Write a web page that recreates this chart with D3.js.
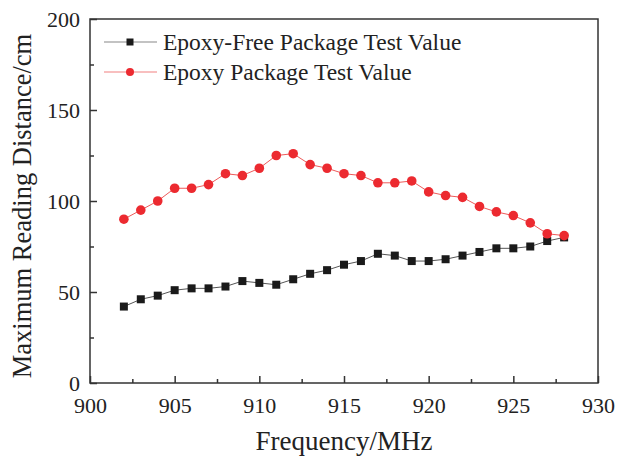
<!DOCTYPE html>
<html>
<head>
<meta charset="utf-8">
<script src="https://cdn.jsdelivr.net/npm/d3@7"></script>
<style>
  body { margin: 0; background: #fff; }
  svg { display: block; }
  text { font-family: "Liberation Serif", "Times New Roman", serif; fill: #222; }
</style>
</head>
<body>
<svg id="chart"></svg>
<script>
const frequency = [902, 903, 904, 905, 906, 907, 908, 909, 910, 911, 912, 913, 914, 915,
  916, 917, 918, 919, 920, 921, 922, 923, 924, 925, 926, 927, 928];
const epoxyFree = [42, 46, 48, 51, 52, 52, 53, 56, 55, 54, 57, 60, 62, 65,
  67, 71, 70, 67, 67, 68, 70, 72, 74, 74, 75, 78, 80];
const epoxy = [90, 95, 100, 107, 107, 109, 115, 114, 118, 125, 126, 120, 118, 115,
  114, 110, 110, 111, 105, 103, 102, 97, 94, 92, 88, 82, 81];
const xTicks = [900, 905, 910, 915, 920, 925, 930];
const yTicks = [0, 50, 100, 150, 200];
const seriesNames = ["Epoxy-Free Package Test Value", "Epoxy Package Test Value"];

const width = 617, height = 461;
const margin = { top: 19, right: 19, bottom: 78, left: 90 };

const svg = d3.select("#chart").attr("width", width).attr("height", height);

const x = d3.scaleLinear().domain([900, 930]).range([margin.left, width - margin.right]);
const y = d3.scaleLinear().domain([0, 200]).range([height - margin.bottom, margin.top]);

const axisColor = "#333";

// frame
svg.append("rect")
  .attr("x", x(900)).attr("y", y(200))
  .attr("width", x(930) - x(900)).attr("height", y(0) - y(200))
  .attr("fill", "none").attr("stroke", axisColor).attr("stroke-width", 1.5);

// x axis, ticks pointing in
svg.append("g").attr("transform", `translate(0,${y(0)})`)
  .call(d3.axisBottom(x).tickValues(xTicks).tickSize(-7).tickPadding(14).tickFormat(d3.format("d")));
svg.append("g").attr("transform", `translate(0,${y(0)})`)
  .call(d3.axisBottom(x).tickValues(d3.range(902.5, 930, 5)).tickSize(-4).tickFormat(""));

svg.append("g").attr("transform", `translate(${x(900)},0)`)
  .call(d3.axisLeft(y).tickValues(yTicks).tickSize(-7).tickPadding(10));
svg.append("g").attr("transform", `translate(${x(900)},0)`)
  .call(d3.axisLeft(y).tickValues([25, 75, 125, 175]).tickSize(-4).tickFormat(""));

svg.selectAll(".domain").remove();
svg.selectAll(".tick line").attr("stroke", axisColor).attr("stroke-width", 1.5);
svg.selectAll(".tick text").attr("font-size", 22).attr("fill", "#222")
  .style("font-family", '"Liberation Serif", serif');

// axis titles
svg.append("text")
  .attr("x", (x(900) + x(930)) / 2).attr("y", 450)
  .attr("text-anchor", "middle").attr("font-size", 27)
  .text("Frequency/MHz");
svg.append("text")
  .attr("transform", `translate(31,${(y(0) + y(200)) / 2 + 5}) rotate(-90)`)
  .attr("text-anchor", "middle").attr("font-size", 26.5)
  .text("Maximum Reading Distance/cm");

const line = d3.line().x((d, i) => x(frequency[i])).y(d => y(d));

// black series
svg.append("path").datum(epoxyFree).attr("d", line)
  .attr("fill", "none").attr("stroke", "#555").attr("stroke-width", 1);
svg.append("g").selectAll("rect").data(epoxyFree).join("rect")
  .attr("x", (d, i) => x(frequency[i]) - 4).attr("y", d => y(d) - 4)
  .attr("width", 8).attr("height", 8).attr("fill", "#1a1a1a");

// red series
svg.append("path").datum(epoxy).attr("d", line)
  .attr("fill", "none").attr("stroke", "#ee5a5a").attr("stroke-width", 1);
svg.append("g").selectAll("circle").data(epoxy).join("circle")
  .attr("cx", (d, i) => x(frequency[i])).attr("cy", d => y(d))
  .attr("r", 4.8).attr("fill", "#ec2a30");

// legend
const legend = svg.append("g");
const legendRows = [
  { name: seriesNames[0], line: "#888", fill: "#1a1a1a", shape: "square", y: 42 },
  { name: seriesNames[1], line: "#f28080", fill: "#ec2a30", shape: "circle", y: 72 }
];
legendRows.forEach(r => {
  legend.append("line").attr("x1", 104).attr("x2", 157).attr("y1", r.y).attr("y2", r.y)
    .attr("stroke", r.line).attr("stroke-width", 1.2);
  if (r.shape === "square") {
    legend.append("rect").attr("x", 130 - 3.5).attr("y", r.y - 3.5)
      .attr("width", 7).attr("height", 7).attr("fill", r.fill);
  } else {
    legend.append("circle").attr("cx", 130).attr("cy", r.y).attr("r", 4).attr("fill", r.fill);
  }
  legend.append("text").attr("x", 163).attr("y", r.y + 8)
    .attr("font-size", 23.5).text(r.name);
});
</script>
</body>
</html>
